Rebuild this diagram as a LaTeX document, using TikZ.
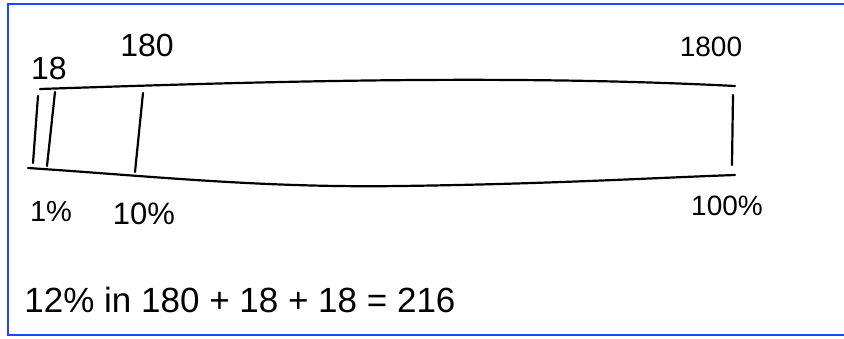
\documentclass[tikz,border=0pt]{standalone}
\usepackage{fontspec}
\setmainfont{Liberation Sans}
\definecolor{frameblue}{RGB}{30,70,250}
\begin{document}
\begin{tikzpicture}[x=1pt,y=-1pt,
  ink/.style={line width=2.2pt,line cap=round,line join=round,black},
  lbl/.style={inner sep=0pt,anchor=center,text=black}]
\useasboundingbox (0,0) rectangle (844,338);
\fill[white] (0,0) rectangle (844,338);
\draw[frameblue,line width=2.4pt] (844,4) -- (8,4) -- (8,335) -- (844,335);
% bar
\coordinate (tl) at (40,89);
\coordinate (tr) at (735,86);
\coordinate (bl) at (28,168);
\coordinate (br) at (735,175);
\draw[ink] (tl) .. controls (250,82) and (500,74) .. (tr);
\draw[ink] (bl) .. controls (150,176) and (260,188) .. (400,186) .. controls (550,184) and (650,178) .. (br);
\coordinate (a1) at (38,96);  \coordinate (a2) at (33,163);
\coordinate (b1) at (55,92);  \coordinate (b2) at (47,166);
\coordinate (c1) at (143,93); \coordinate (c2) at (135,172);
\coordinate (d1) at (733,95); \coordinate (d2) at (732,165);
\draw[ink] (a1) -- (a2);
\draw[ink] (b1) -- (b2);
\draw[ink] (c1) -- (c2);
\draw[ink] (d1) -- (d2);
% labels
\node[lbl,font=\fontsize{32}{34}\selectfont] (n18) at (49,68) {18};
\node[lbl,font=\fontsize{32}{34}\selectfont] (n180) at (147,45) {180};
\node[lbl,font=\fontsize{28}{30}\selectfont] (n1800) at (711,47) {1800};
\node[lbl,font=\fontsize{29}{31}\selectfont] (p1) at (51,212) {1\%};
\node[lbl,font=\fontsize{31}{33}\selectfont] (p10) at (144,214) {10\%};
\node[lbl,font=\fontsize{28}{30}\selectfont] (p100) at (727,206) {100\%};
\node[lbl,font=\fontsize{35}{37}\selectfont] (eq) at (240,300) {12\% in 180 + 18 + 18 = 216};
\end{tikzpicture}
\end{document}
